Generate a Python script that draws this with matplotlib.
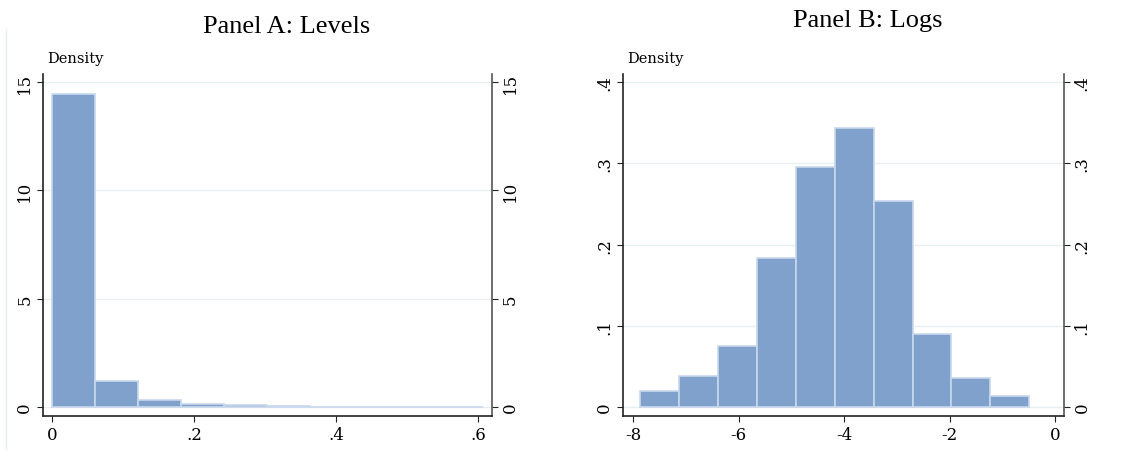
import numpy as np
import matplotlib.pyplot as plt
from matplotlib.lines import Line2D

# Panel A: levels histogram (density)
edges_a = np.linspace(0.0, 0.607, 11)
dens_a = [14.43, 1.20, 0.34, 0.12, 0.08, 0.03, 0.015, 0.006, 0.005, 0.004]
ticks_a_x = [0, 0.2, 0.4, 0.6]
labels_a_x = ['0', '.2', '.4', '.6']
ticks_a_y = [0, 5, 10, 15]
labels_a_y = ['0', '5', '10', '15']

# Panel B: logs histogram (density)
edges_b = np.linspace(-7.874, -0.486, 11)
dens_b = [0.0197, 0.0386, 0.0747, 0.184, 0.296, 0.343, 0.254, 0.0894, 0.0361, 0.0139]
ticks_b_x = [-8, -6, -4, -2, 0]
labels_b_x = ['-8', '-6', '-4', '-2', '0']
ticks_b_y = [0, 0.1, 0.2, 0.3, 0.4]
labels_b_y = ['0', '.1', '.2', '.3', '.4']

plt.rcParams['font.family'] = ['DejaVu Serif']

W, H = 1141, 452
fig = plt.figure(figsize=(W / 100, H / 100), dpi=100)

face = '#7fa1cc'
edge = '#c8d8ec'
grid_c = '#e6eff2'
spine_c = '#222222'


def px_axes(l, t, r, b):
    return fig.add_axes([l / W, 1 - b / H, (r - l) / W, (b - t) / H])


def style(ax, xt, xl, yt, yl, xlim, ylim):
    ax.set_xlim(*xlim)
    ax.set_ylim(*ylim)
    ax.spines['top'].set_visible(False)
    for s in ['left', 'bottom']:
        ax.spines[s].set_color(spine_c)
        ax.spines[s].set_linewidth(1.2)
    ax.spines['right'].set_color('#555555')
    ax.spines['right'].set_linewidth(1.2)
    ax.set_xticks(xt)
    ax.set_xticklabels(xl, fontsize=12)
    ax.set_yticks(yt)
    ax.set_yticklabels(yl, fontsize=12)
    ax.tick_params(axis='both', length=4, width=0.8, color=spine_c, pad=3)
    ax.tick_params(axis='y', right=True, labelright=True)
    for tk in ax.yaxis.get_major_ticks():
        for lab in (tk.label1, tk.label2):
            lab.set_rotation(90)
            lab.set_va('center')
    ax.grid(axis='y', color=grid_c, linewidth=1.0)
    ax.set_axisbelow(True)


ax1 = px_axes(43, 75, 492, 417)
ax1.hist(edges_a[:-1], bins=edges_a, weights=dens_a, color=face, edgecolor=edge, linewidth=1.2)
style(ax1, ticks_a_x, labels_a_x, ticks_a_y, labels_a_y, (-0.0127, 0.62), (-0.415, 15.37))
ax1.text(0.01, 1.025, 'Density', transform=ax1.transAxes, fontsize=10.5, ha='left', va='bottom')
fig.text(287 / W, 1 - 27 / H, 'Panel A: Levels', fontsize=19, ha='center', va='center',
         family='Liberation Serif')

ax2 = px_axes(623, 75, 1064, 417)
ax2.hist(edges_b[:-1], bins=edges_b, weights=dens_b, color=face, edgecolor=edge, linewidth=1.2)
style(ax2, ticks_b_x, labels_b_x, ticks_b_y, labels_b_y, (-8.196, 0.171), (-0.011, 0.41))
ax2.text(0.01, 1.025, 'Density', transform=ax2.transAxes, fontsize=10.5, ha='left', va='bottom')
fig.text(868 / W, 1 - 21 / H, 'Panel B: Logs', fontsize=19, ha='center', va='center',
         family='Liberation Serif')

# faint frame line at the left edge
fig.add_artist(Line2D([6 / W, 6 / W], [1 - 30 / H, 1 - 450 / H], color='#e8eef0', lw=1,
                      transform=fig.transFigure))

fig.savefig('out.png', dpi=100, facecolor='white')
